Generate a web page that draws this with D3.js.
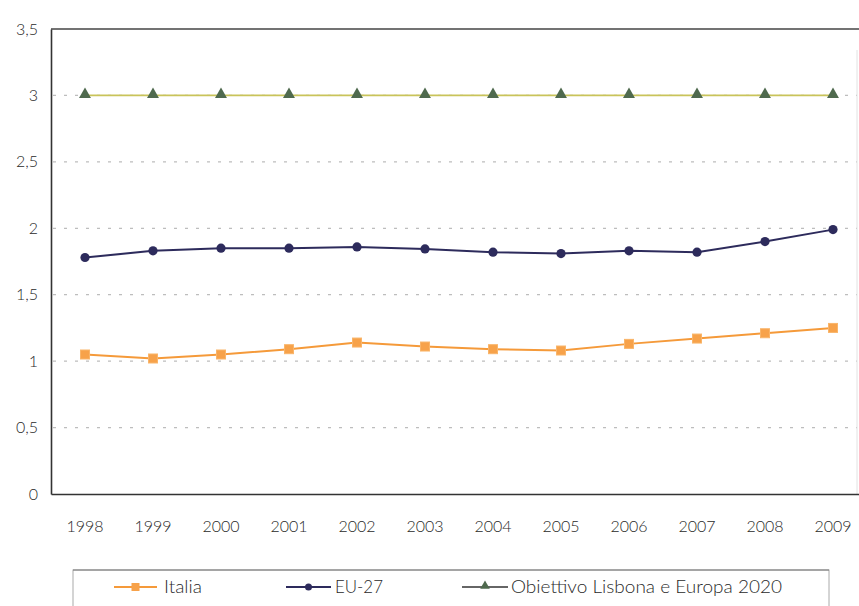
<!DOCTYPE html>
<html>
<head>
<meta charset="utf-8">
<script src="https://cdn.jsdelivr.net/npm/d3@7"></script>
<style>
  html, body { margin: 0; padding: 0; background: #fff; }
  svg { display: block; }
  text { font-family: "Lato", "Liberation Sans", sans-serif; font-weight: 300; fill: #2a2a2a; }
</style>
</head>
<body>
<script>
const years = ["1998","1999","2000","2001","2002","2003","2004","2005","2006","2007","2008","2009"];
const italia = [1.05, 1.02, 1.05, 1.09, 1.14, 1.11, 1.09, 1.08, 1.13, 1.17, 1.21, 1.25];
const eu27   = [1.78, 1.83, 1.85, 1.85, 1.86, 1.845, 1.82, 1.81, 1.83, 1.82, 1.90, 1.99];
const lisbona = [3, 3, 3, 3, 3, 3, 3, 3, 3, 3, 3, 3];
const yTicks = [0, 0.5, 1, 1.5, 2, 2.5, 3, 3.5];
const seriesNames = ["Italia", "EU-27", "Obiettivo Lisbona e Europa 2020"];

(function () {
const W = 859, H = 606;
const pLeft = 51, pRight = 867, pTop = 29, pBottom = 494;

const svg = d3.select("body").append("svg").attr("width", W).attr("height", H);

const x = d3.scaleBand().domain(years).range([pLeft, pRight]).padding(0);
const cx = d => x(d) + x.bandwidth() / 2;
const y = d3.scaleLinear().domain([0, 3.5]).range([pBottom, pTop]);

// gridlines
svg.append("g").selectAll("line").data(yTicks.filter(t => t > 0 && t < 3.5)).join("line")
  .attr("x1", pLeft + 2).attr("x2", W - 2)
  .attr("y1", d => y(d)).attr("y2", d => y(d))
  .attr("stroke", "#bdbdbd").attr("stroke-width", 1.2).attr("stroke-dasharray", "3,8");

// top border
svg.append("line").attr("x1", pLeft).attr("x2", W).attr("y1", y(3.5)).attr("y2", y(3.5))
  .attr("stroke", "#444").attr("stroke-width", 1.3);
// faint right border
svg.append("line").attr("x1", W - 2).attr("x2", W - 2).attr("y1", 50).attr("y2", pBottom)
  .attr("stroke", "#e2e2e2").attr("stroke-width", 1);

// y axis
const yAxis = d3.axisLeft(y).tickValues(yTicks).tickSize(0).tickPadding(13)
  .tickFormat(d => String(d).replace(".", ","));
const gy = svg.append("g").attr("transform", `translate(${pLeft},0)`).call(yAxis);
gy.select(".domain").attr("stroke", "#333").attr("stroke-width", 1.6);
gy.selectAll("text").attr("font-size", 16).attr("fill", "#2a2a2a")
  .style("font-family", '"Lato", sans-serif').style("font-weight", 300);

// x axis
const xAxis = d3.axisBottom(x).tickSize(0).tickPadding(27);
const gx = svg.append("g").attr("transform", `translate(0,${pBottom})`).call(xAxis);
gx.select(".domain").attr("stroke", "#333").attr("stroke-width", 1.6);
gx.selectAll("text").attr("font-size", 16).attr("fill", "#2a2a2a")
  .style("font-family", '"Lato", sans-serif').style("font-weight", 300);

const line = d3.line().x((d, i) => cx(years[i])).y(d => y(d));

const cItalia = "#f59a3a", cEU = "#2d2b5c", cLisLine = "#c9c45a", cLisMark = "#4f6a4e";

// Lisbona
svg.append("path").datum(lisbona).attr("d", line).attr("fill", "none")
  .attr("stroke", cLisLine).attr("stroke-width", 1.8);
const tri = d3.symbol().type(d3.symbolTriangle).size(62);
svg.append("g").selectAll("path").data(lisbona).join("path")
  .attr("d", tri).attr("transform", (d, i) => `translate(${cx(years[i])},${y(d) - 1})`)
  .attr("fill", cLisMark);

// EU-27
svg.append("path").datum(eu27).attr("d", line).attr("fill", "none")
  .attr("stroke", cEU).attr("stroke-width", 2);
svg.append("g").selectAll("circle").data(eu27).join("circle")
  .attr("cx", (d, i) => cx(years[i])).attr("cy", d => y(d)).attr("r", 4.6)
  .attr("fill", cEU);

// Italia
svg.append("path").datum(italia).attr("d", line).attr("fill", "none")
  .attr("stroke", cItalia).attr("stroke-width", 2);
svg.append("g").selectAll("rect").data(italia).join("rect")
  .attr("x", (d, i) => cx(years[i]) - 4.5).attr("y", d => y(d) - 4.5)
  .attr("width", 9).attr("height", 9)
  .attr("fill", "#f7a24a").attr("stroke", "#f9b56a").attr("stroke-width", 1);

// legend
const lg = svg.append("g");
lg.append("rect").attr("x", 73).attr("y", 570).attr("width", 756).attr("height", 60)
  .attr("fill", "none").attr("stroke", "#aaa").attr("stroke-width", 1);
lg.append("line").attr("x1", 73).attr("x2", 829).attr("y1", 570).attr("y2", 570)
  .attr("stroke", "#777").attr("stroke-width", 1.2);
const legendItems = [
  { name: seriesNames[0], x1: 114, x2: 157, color: cItalia, mark: "square", tx: 164, tw: 38 },
  { name: seriesNames[1], x1: 286, x2: 331, color: cEU, mark: "circle", tx: 335, tw: 48 },
  { name: seriesNames[2], x1: 462, x2: 508, color: "#666", mark: "triangle", tx: 511, tw: 271 }
];
const ly = 587;
legendItems.forEach(it => {
  lg.append("line").attr("x1", it.x1).attr("x2", it.x2).attr("y1", ly).attr("y2", ly)
    .attr("stroke", it.color).attr("stroke-width", 2);
  const mx = (it.x1 + it.x2) / 2;
  if (it.mark === "square") {
    lg.append("rect").attr("x", mx - 4).attr("y", ly - 4).attr("width", 8).attr("height", 8).attr("fill", "#f7a24a");
  } else if (it.mark === "circle") {
    lg.append("circle").attr("cx", mx).attr("cy", ly).attr("r", 3.5).attr("fill", cEU);
  } else {
    lg.append("path").attr("d", d3.symbol().type(d3.symbolTriangle).size(40)).attr("transform", `translate(${mx},${ly - 1})`).attr("fill", cLisMark);
  }
  lg.append("text").attr("x", it.tx).attr("y", ly + 6).attr("font-size", 18)
    .attr("textLength", it.tw).attr("lengthAdjust", "spacingAndGlyphs")
    .attr("fill", "#2a2a2a").text(it.name);
});
})();
</script>
</body>
</html>
